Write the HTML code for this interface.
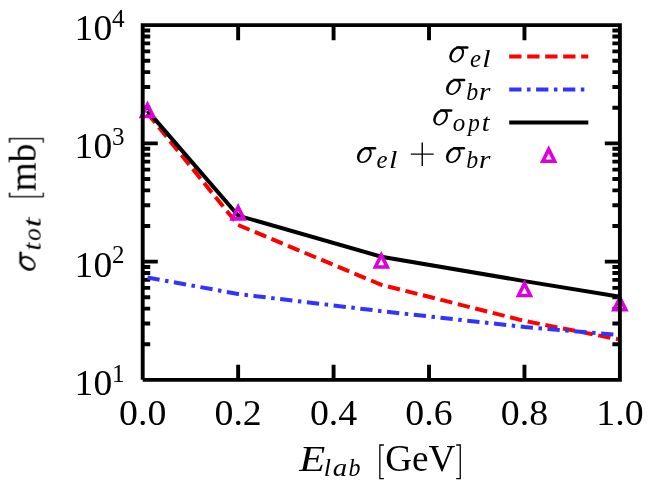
<!DOCTYPE html>
<html><head><meta charset="utf-8"><title>plot</title><style>html,body{margin:0;padding:0;background:#fff}body{width:654px;height:489px;position:relative;overflow:hidden;font-family:"Liberation Serif",serif}</style></head><body>
<svg width="654" height="489" viewBox="0 0 654 489" style="position:absolute;left:0;top:0">
<rect width="654" height="489" fill="#fff"/>
<g stroke="#000" stroke-width="3.9" fill="none">
<path d="M142.70 344.25h7.5 M619.90 344.25h-7.5"/>
<path d="M142.70 323.43h7.5 M619.90 323.43h-7.5"/>
<path d="M142.70 308.66h7.5 M619.90 308.66h-7.5"/>
<path d="M142.70 297.20h7.5 M619.90 297.20h-7.5"/>
<path d="M142.70 287.83h7.5 M619.90 287.83h-7.5"/>
<path d="M142.70 279.92h7.5 M619.90 279.92h-7.5"/>
<path d="M142.70 273.06h7.5 M619.90 273.06h-7.5"/>
<path d="M142.70 267.01h7.5 M619.90 267.01h-7.5"/>
<path d="M142.70 261.60h15.1 M619.90 261.60h-15.1"/>
<path d="M142.70 226.00h7.5 M619.90 226.00h-7.5"/>
<path d="M142.70 205.18h7.5 M619.90 205.18h-7.5"/>
<path d="M142.70 190.41h7.5 M619.90 190.41h-7.5"/>
<path d="M142.70 178.95h7.5 M619.90 178.95h-7.5"/>
<path d="M142.70 169.58h7.5 M619.90 169.58h-7.5"/>
<path d="M142.70 161.67h7.5 M619.90 161.67h-7.5"/>
<path d="M142.70 154.81h7.5 M619.90 154.81h-7.5"/>
<path d="M142.70 148.76h7.5 M619.90 148.76h-7.5"/>
<path d="M142.70 143.35h15.1 M619.90 143.35h-15.1"/>
<path d="M142.70 107.75h7.5 M619.90 107.75h-7.5"/>
<path d="M142.70 86.93h7.5 M619.90 86.93h-7.5"/>
<path d="M142.70 72.16h7.5 M619.90 72.16h-7.5"/>
<path d="M142.70 60.70h7.5 M619.90 60.70h-7.5"/>
<path d="M142.70 51.33h7.5 M619.90 51.33h-7.5"/>
<path d="M142.70 43.42h7.5 M619.90 43.42h-7.5"/>
<path d="M142.70 36.56h7.5 M619.90 36.56h-7.5"/>
<path d="M142.70 30.51h7.5 M619.90 30.51h-7.5"/>
<path d="M238.14 379.85v-15.1 M238.14 25.10v15.1"/>
<path d="M333.58 379.85v-15.1 M333.58 25.10v15.1"/>
<path d="M429.02 379.85v-15.1 M429.02 25.10v15.1"/>
<path d="M524.46 379.85v-15.1 M524.46 25.10v15.1"/>
</g>
<g fill="none" stroke-width="4.0" stroke-linejoin="miter">
<path d="M147.47 113.16 L238.14 224.99 L381.30 284.76 L524.46 320.92 L619.90 339.59" stroke="#ff0000" stroke-dasharray="12.3,5.7"/>
<path d="M147.47 277.48 L238.14 294.01 L381.30 311.16 L524.46 326.97 L619.90 335.10" stroke="#3333ff" stroke-dasharray="12.3,5.55,3.5,5.55"/>
<path d="M147.47 110.66 L238.14 215.58 L381.30 256.71 L524.46 281.10 L619.90 296.69" stroke="#000"/>
<path d="M509.2 56.6H588.3" stroke="#ff0000" stroke-dasharray="12.3,5.7"/>
<path d="M509.2 89.5H588.3" stroke="#3333ff" stroke-dasharray="12.3,5.55,3.5,5.55"/>
<path d="M509.2 122.4H588.3" stroke="#000"/>
</g>
<g fill="none" stroke="#dd00dd" stroke-width="3.6" stroke-linejoin="miter">
<path d="M147.47 104.66 L141.57 116.56 L153.37 116.56 Z"/>
<path d="M238.14 206.93 L232.24 218.83 L244.04 218.83 Z"/>
<path d="M381.30 255.09 L375.40 266.99 L387.20 266.99 Z"/>
<path d="M524.46 283.57 L518.56 295.47 L530.36 295.47 Z"/>
<path d="M619.90 297.76 L614.00 309.66 L625.80 309.66 Z"/>
<path d="M548.70 149.40 L542.80 161.30 L554.60 161.30 Z"/>
</g>
<path d="M142.70 379.85H619.90V25.10H142.70V379.85" stroke="#000" stroke-width="3.9" fill="none" stroke-linejoin="miter"/>
<g font-family="Liberation Serif, serif" fill="#000" opacity="0.999">
<text transform="matrix(1.0328 0 0 1.0000 74.62 40.20)" font-size="36.39" font-style="normal">10</text>
<text x="111.90" y="26.90" font-size="25.19">4</text>
<text transform="matrix(1.0328 0 0 1.0000 74.62 158.45)" font-size="36.39" font-style="normal">10</text>
<text x="111.90" y="145.15" font-size="25.00">3</text>
<text transform="matrix(1.0328 0 0 1.0000 74.62 276.70)" font-size="36.39" font-style="normal">10</text>
<text x="111.90" y="263.40" font-size="25.00">2</text>
<text transform="matrix(1.0328 0 0 1.0000 74.62 394.95)" font-size="36.39" font-style="normal">10</text>
<text x="111.90" y="381.65" font-size="25.19">1</text>
<text transform="matrix(1.0618 0 0 1 119.05 424.70)" font-size="35.64">0.0</text>
<text transform="matrix(1.0618 0 0 1 214.49 424.70)" font-size="35.64">0.2</text>
<text transform="matrix(1.0618 0 0 1 309.93 424.70)" font-size="35.64">0.4</text>
<text transform="matrix(1.0618 0 0 1 405.37 424.70)" font-size="35.64">0.6</text>
<text transform="matrix(1.0618 0 0 1 500.81 424.70)" font-size="35.64">0.8</text>
<text transform="matrix(1.0618 0 0 1 596.25 424.70)" font-size="35.64">1.0</text>
<text transform="matrix(1.1664 0 0 1.0000 299.28 471.00)" font-size="36.49" font-style="italic">E</text>
<text transform="matrix(1.0022 0 0 1.0000 323.77 476.30)" font-size="25.94" font-style="italic">l</text>
<text transform="matrix(1.1091 0 0 1.0000 332.63 476.30)" font-size="26.00" font-style="italic">a</text>
<text transform="matrix(0.9233 0 0 1.0000 348.44 476.30)" font-size="25.94" font-style="italic">b</text>
<text transform="matrix(0.9877 0 0 1.0000 385.22 471.00)" font-size="37.58" font-style="normal">GeV</text>
<g transform="translate(35.6,270.8) rotate(-90)"><g transform="translate(0.00 0.00)"><path fill-rule="evenodd" d="M2.07 -1.21A8.70 6.55 -51.8 1 0 12.83 -14.89A8.70 6.55 -51.8 1 0 2.07 -1.21ZM4.08 -2.04A6.76 4.25 -57.6 1 0 11.32 -13.46A6.76 4.25 -57.6 1 0 4.08 -2.04Z"/><path d="M6.6 -16.3H18.1a1.25 1.25 0 0 1 0 2.5H9.5Z"/></g><text transform="matrix(1.1231 0 0 1.0000 20.19 5.30)" font-size="26.00" font-style="italic">t</text><text transform="matrix(0.9615 0 0 1.0000 30.05 5.30)" font-size="26.00" font-style="italic">o</text><text transform="matrix(1.3692 0 0 1.0000 43.40 5.30)" font-size="26.00" font-style="italic">t</text><text transform="matrix(1.0052 0 0 1.0000 79.55 0.00)" font-size="37.10" font-style="normal">mb</text>
<path d="M78.20 -26.00H74.15V7.70H78.20" fill="none" stroke="#000" stroke-width="1.3"/><path d="M128.15 -26.00H132.20V7.70H128.15" fill="none" stroke="#000" stroke-width="1.3"/>
</g>
<path d="M383.90 445.00H379.85V478.70H383.90" fill="none" stroke="#000" stroke-width="1.3"/><path d="M456.20 445.00H460.25V478.70H456.20" fill="none" stroke="#000" stroke-width="1.3"/>
<g transform="translate(449.20 62.50)"><path fill-rule="evenodd" d="M2.07 -1.21A8.70 6.55 -51.8 1 0 12.83 -14.89A8.70 6.55 -51.8 1 0 2.07 -1.21ZM4.08 -2.04A6.76 4.25 -57.6 1 0 11.32 -13.46A6.76 4.25 -57.6 1 0 4.08 -2.04Z"/><path d="M6.6 -16.3H18.1a1.25 1.25 0 0 1 0 2.5H9.5Z"/></g>
<text transform="matrix(0.9566 0 0 1.0000 469.95 67.30)" font-size="26.00" font-style="italic">e</text><text transform="matrix(1.1538 0 0 1.0000 482.35 67.30)" font-size="26.00" font-style="italic">l</text>
<g transform="translate(446.00 95.00)"><path fill-rule="evenodd" d="M2.07 -1.21A8.70 6.55 -51.8 1 0 12.83 -14.89A8.70 6.55 -51.8 1 0 2.07 -1.21ZM4.08 -2.04A6.76 4.25 -57.6 1 0 11.32 -13.46A6.76 4.25 -57.6 1 0 4.08 -2.04Z"/><path d="M6.6 -16.3H18.1a1.25 1.25 0 0 1 0 2.5H9.5Z"/></g>
<text transform="matrix(0.9213 0 0 1.0000 466.24 99.50)" font-size="26.00" font-style="italic">b</text><text transform="matrix(1.1319 0 0 1.0000 478.92 99.50)" font-size="26.00" font-style="italic">r</text>
<g transform="translate(433.10 125.50)"><path fill-rule="evenodd" d="M2.07 -1.21A8.70 6.55 -51.8 1 0 12.83 -14.89A8.70 6.55 -51.8 1 0 2.07 -1.21ZM4.08 -2.04A6.76 4.25 -57.6 1 0 11.32 -13.46A6.76 4.25 -57.6 1 0 4.08 -2.04Z"/><path d="M6.6 -16.3H18.1a1.25 1.25 0 0 1 0 2.5H9.5Z"/></g>
<text transform="matrix(0.9615 0 0 1.0000 452.85 130.60)" font-size="26.00" font-style="italic">o</text><text transform="matrix(0.9071 0 0 1.0000 467.92 130.60)" font-size="26.00" font-style="italic">p</text><text transform="matrix(1.0923 0 0 1.0000 481.72 130.60)" font-size="26.00" font-style="italic">t</text>
<g transform="translate(356.90 163.20)"><path fill-rule="evenodd" d="M2.07 -1.21A8.70 6.55 -51.8 1 0 12.83 -14.89A8.70 6.55 -51.8 1 0 2.07 -1.21ZM4.08 -2.04A6.76 4.25 -57.6 1 0 11.32 -13.46A6.76 4.25 -57.6 1 0 4.08 -2.04Z"/><path d="M6.6 -16.3H18.1a1.25 1.25 0 0 1 0 2.5H9.5Z"/></g>
<text transform="matrix(0.9566 0 0 1.0000 376.55 167.90)" font-size="26.00" font-style="italic">e</text><text transform="matrix(1.1538 0 0 1.0000 388.95 167.90)" font-size="26.00" font-style="italic">l</text>
<g transform="translate(445.90 163.20)"><path fill-rule="evenodd" d="M2.07 -1.21A8.70 6.55 -51.8 1 0 12.83 -14.89A8.70 6.55 -51.8 1 0 2.07 -1.21ZM4.08 -2.04A6.76 4.25 -57.6 1 0 11.32 -13.46A6.76 4.25 -57.6 1 0 4.08 -2.04Z"/><path d="M6.6 -16.3H18.1a1.25 1.25 0 0 1 0 2.5H9.5Z"/></g>
<text transform="matrix(0.9213 0 0 1.0000 466.24 167.90)" font-size="26.00" font-style="italic">b</text><text transform="matrix(1.1319 0 0 1.0000 478.92 167.90)" font-size="26.00" font-style="italic">r</text>
<path d="M410.8 154.1H433.7M422.25 142.6V166" stroke="#000" stroke-width="1.4" fill="none"/>
</g>
</svg>
</body></html>
